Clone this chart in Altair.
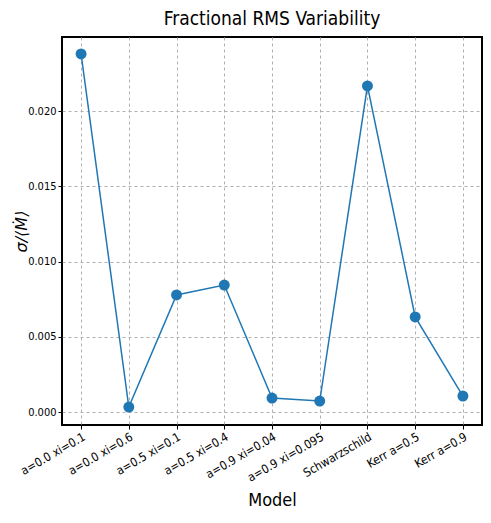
import altair as alt
import pandas as pd

models = ["a=0.0 xi=0.1", "a=0.0 xi=0.6", "a=0.5 xi=0.1", "a=0.5 xi=0.4",
          "a=0.9 xi=0.04", "a=0.9 xi=0.095", "Schwarzschild", "Kerr a=0.5", "Kerr a=0.9"]
rms = [0.0238, 0.00033, 0.00778, 0.00844, 0.00093, 0.00073, 0.02168, 0.00632, 0.00106]

df = pd.DataFrame({"Model": models, "rms": rms})

FONT = "DejaVu Sans Condensed"

x = alt.X("Model:N", sort=models,
          scale=alt.Scale(type="point", padding=0.4),
          axis=alt.Axis(title="Model", labelAngle=-30, labelAlign="right", labelBaseline="top",
                        labelFontSize=12, labelFont=FONT, titleFont=FONT, titleFontSize=18,
                        titleFontWeight="normal", titlePadding=8, tickSize=4, grid=True,
                        tickColor="black", domain=False, gridDash=[3, 3], gridColor="#b0b0b0",
                        labelColor="black", titleColor="black", labelPadding=2))
y = alt.Y("rms:Q",
          scale=alt.Scale(domain=[-0.000864, 0.02493], nice=False, zero=False),
          axis=alt.Axis(title="σ/⟨Ṁ⟩", values=[0, 0.005, 0.01, 0.015, 0.02], format=".3f",
                        labelFontSize=11, labelFont=FONT, titleFont="DejaVu Sans", titleFontSize=16,
                        titleFontStyle="italic", titleX=-33, titleY=194, titleAngle=270,
                        titleAlign="center", titleBaseline="bottom",
                        titleFontWeight="normal", tickSize=4, tickColor="black", domain=False,
                        gridDash=[3, 3], gridColor="#b0b0b0", labelColor="black",
                        titleColor="black"))

line = alt.Chart(df).mark_line(color="#1f77b4", strokeWidth=1.5).encode(x=x, y=y)
pts = alt.Chart(df).mark_circle(color="#1f77b4", size=120, opacity=1).encode(x=x, y=y)

chart = (line + pts).properties(
    width=420, height=388,
    title=alt.TitleParams("Fractional RMS Variability", font=FONT, fontSize=19,
                          fontWeight="normal", color="black", offset=8),
    autosize=alt.AutoSizeParams(type="none"),
    padding={"left": 54, "top": 29, "right": 1, "bottom": 90},
).configure_view(stroke="black", strokeWidth=2)

chart.save("out.html", embed_options={"renderer": "svg", "actions": False})
